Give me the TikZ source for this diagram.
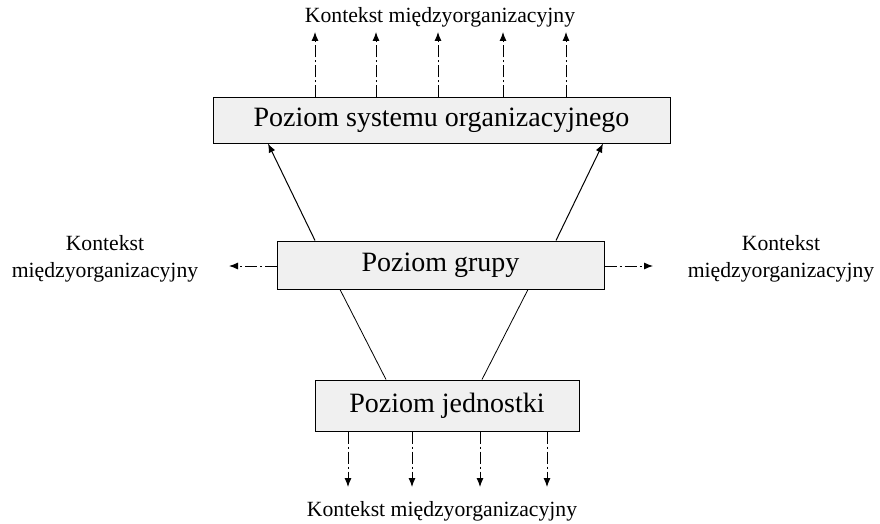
\documentclass[tikz,border=0pt]{standalone}
\usepackage{fontspec}
\setmainfont{Liberation Serif}
\usetikzlibrary{arrows.meta}
\begin{document}
\begin{tikzpicture}[x=1pt,y=-1pt,
  level/.style={draw=black, line width=1pt, fill=black!6, inner sep=0pt, font=\rmfamily\fontsize{28}{32}\selectfont},
  ctx/.style={font=\rmfamily\fontsize{21.7}{27}\selectfont, inner sep=0pt, align=center},
  dd/.style={line width=0.9pt, dash pattern=on 12pt off 3pt on 2pt off 3pt, -{Latex[length=9pt,width=7pt]}},
  solid arrow/.style={line width=1pt, -{Latex[length=9pt,width=7pt]}},
  link/.style={line width=0.8pt}]
\useasboundingbox (0,0) rectangle (880,524);
\node[level, minimum width=457pt, minimum height=45pt] (b1) at (441.5,120.5) {Poziom systemu organizacyjnego};
\node[level, minimum width=327pt, minimum height=48pt] (b2) at (440.5,265) {Poziom grupy};
\node[level, minimum width=264pt, minimum height=51pt] (b3) at (447,405.5) {Poziom jednostki};
\node[ctx] (ttop) at (440,17) {Kontekst międzyorganizacyjny};
\node[ctx] (tbot) at (442,511) {Kontekst międzyorganizacyjny};
\node[ctx] (tleft) at (105,259) {Kontekst\\międzyorganizacyjny};
\node[ctx] (tright) at (781,259) {Kontekst\\międzyorganizacyjny};
% top arrows
\foreach \x [count=\i] in {315,376,438,503,566} {
  \coordinate (u\i) at (\x,32);
  \draw[dd] (u\i |- b1.north) -- (u\i);
}
% bottom arrows
\foreach \x [count=\i] in {348,412,480,547} {
  \coordinate (d\i) at (\x,487);
  \draw[dd] (d\i |- b3.south) -- (d\i);
}
% side arrows
\coordinate (lt) at (229,266);
\coordinate (rt) at (653,266);
\draw[dd] (b2.west |- lt) -- (lt);
\draw[dd] (b2.east |- rt) -- (rt);
% solid arrows group -> system
\coordinate (ga) at (315,0); \coordinate (sa) at (268,0);
\coordinate (gb) at (556,0); \coordinate (sb) at (603,0);
\draw[solid arrow] (ga |- b2.north) -- (sa |- b1.south);
\draw[solid arrow] (gb |- b2.north) -- (sb |- b1.south);
% lines unit -> group
\coordinate (ja) at (386,0); \coordinate (pa) at (340,0);
\coordinate (jb) at (482,0); \coordinate (pb) at (528,0);
\draw[link] (ja |- b3.north) -- (pa |- b2.south);
\draw[link] (jb |- b3.north) -- (pb |- b2.south);
\end{tikzpicture}
\end{document}
